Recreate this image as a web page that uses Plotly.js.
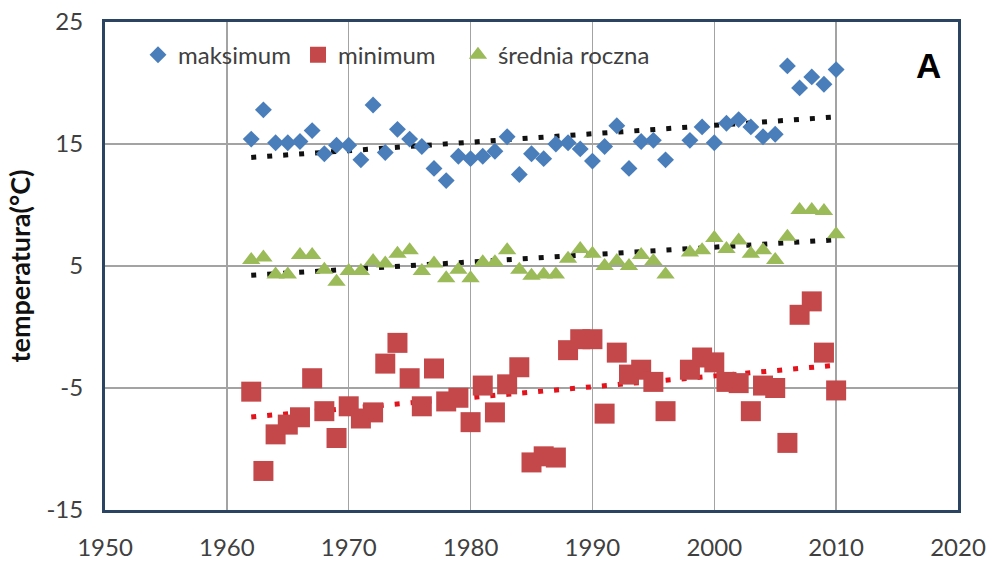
<!DOCTYPE html>
<html>
<head>
<meta charset="utf-8">
<script src="https://cdn.plot.ly/plotly-3.0.1.min.js"></script>
<style>
  html, body { margin: 0; padding: 0; background: #ffffff; }
  #chart { width: 987px; height: 563px; }
</style>
</head>
<body>
<div id="chart"></div>
<script>
// Years of observation (1997 has no record)
const years = [
  1962, 1963, 1964, 1965, 1966, 1967, 1968, 1969, 1970, 1971,
  1972, 1973, 1974, 1975, 1976, 1977, 1978, 1979, 1980, 1981,
  1982, 1983, 1984, 1985, 1986, 1987, 1988, 1989, 1990, 1991,
  1992, 1993, 1994, 1995, 1996, 1998, 1999, 2000, 2001, 2002,
  2003, 2004, 2005, 2006, 2007, 2008, 2009, 2010
];

// Annual maximum temperature (°C)
const maksimum = [
  15.4, 17.8, 15.1, 15.1, 15.2, 16.1, 14.2, 14.9, 14.9, 13.7,
  18.2, 14.3, 16.2, 15.4, 14.8, 13.0, 12.0, 14.0, 13.8, 14.0,
  14.4, 15.6, 12.5, 14.2, 13.8, 15.0, 15.1, 14.6, 13.6, 14.8,
  16.5, 13.0, 15.2, 15.3, 13.7, 15.3, 16.4, 15.1, 16.7, 17.0,
  16.4, 15.6, 15.8, 21.4, 19.6, 20.5, 19.9, 21.1
];

// Annual minimum temperature (°C)
const minimum = [
  -5.3, -11.8, -8.8, -8.0, -7.4, -4.2, -6.9, -9.1, -6.5, -7.5,
  -7.0, -3.0, -1.3, -4.2, -6.5, -3.4, -6.1, -5.8, -7.8, -4.8,
  -7.0, -4.7, -3.3, -11.1, -10.6, -10.7, -1.9, -1.0, -1.0, -7.1,
  -2.1, -3.9, -3.5, -4.5, -6.9, -3.5, -2.5, -2.9, -4.5, -4.6,
  -6.9, -4.8, -5.0, -9.5, 1.0, 2.1, -2.1, -5.2
];

// Mean annual temperature (°C)
const srednia = [
  5.5, 5.7, 4.3, 4.3, 5.9, 5.9, 4.7, 3.7, 4.6, 4.6,
  5.4, 5.2, 6.0, 6.3, 4.6, 5.2, 4.0, 4.7, 4.0, 5.3,
  5.3, 6.3, 4.7, 4.2, 4.3, 4.3, 5.6, 6.4, 6.0, 5.0,
  5.4, 5.0, 5.9, 5.4, 4.3, 6.1, 6.3, 7.3, 6.4, 7.1,
  6.0, 6.3, 5.5, 7.4, 9.6, 9.6, 9.5, 7.6
];

const seriesNames = ['maksimum', 'minimum', 'średnia roczna'];
const xTicks = [1950, 1960, 1970, 1980, 1990, 2000, 2010, 2020];
const yTicks = [-15, -5, 5, 15, 25];

// Least-squares linear trend over the observed years
function linearTrend(xs, ys) {
  const n = xs.length;
  let sx = 0, sy = 0, sxx = 0, sxy = 0;
  for (let i = 0; i < n; i++) {
    sx += xs[i]; sy += ys[i];
    sxx += xs[i] * xs[i]; sxy += xs[i] * ys[i];
  }
  const slope = (n * sxy - sx * sy) / (n * sxx - sx * sx);
  const icpt = (sy - slope * sx) / n;
  const x0 = xs[0], x1 = xs[n - 1];
  return { x: [x0, x1], y: [icpt + slope * x0, icpt + slope * x1] };
}

const fontFamily = 'Lato, "Open Sans", sans-serif';
const textColor = '#404040';
const dotDash = '5px,11px';

const tMax = linearTrend(years, maksimum);
const tMin = linearTrend(years, minimum);
const tAvg = linearTrend(years, srednia);

const traces = [
  {
    x: tMax.x, y: tMax.y, mode: 'lines', showlegend: false, hoverinfo: 'skip',
    line: { color: '#111111', width: 5, dash: dotDash }
  },
  {
    x: tAvg.x, y: tAvg.y, mode: 'lines', showlegend: false, hoverinfo: 'skip',
    line: { color: '#111111', width: 5, dash: dotDash }
  },
  {
    x: tMin.x, y: tMin.y, mode: 'lines', showlegend: false, hoverinfo: 'skip',
    line: { color: '#E3121B', width: 5, dash: dotDash }
  },
  {
    x: years, y: maksimum, name: seriesNames[0], type: 'scatter', mode: 'markers',
    legend: 'legend',
    marker: { symbol: 'diamond', size: 13, color: '#4A7EBB', line: { width: 0 } }
  },
  {
    x: years, y: minimum, name: seriesNames[1], type: 'scatter', mode: 'markers',
    legend: 'legend',
    marker: { symbol: 'square', size: 20, color: '#C4484A', line: { width: 0 } }
  },
  {
    x: years, y: srednia, name: seriesNames[2], type: 'scatter', mode: 'markers',
    legend: 'legend2',
    marker: { symbol: 'triangle-up', size: 16, color: '#9BBB59', line: { width: 0 } }
  }
];

const legendFont = { family: fontFamily, size: 24, color: textColor };

const layout = {
  width: 987,
  height: 563,
  margin: { l: 105, r: 29, t: 22, b: 53 },
  paper_bgcolor: '#ffffff',
  plot_bgcolor: '#ffffff',
  font: { family: fontFamily, color: textColor, size: 24 },
  showlegend: true,
  legend: {
    orientation: 'h',
    x: 0.0387, xanchor: 'left',
    y: 0.932, yanchor: 'middle',
    bgcolor: 'rgba(0,0,0,0)',
    font: legendFont,
    entrywidth: 115, entrywidthmode: 'pixels',
    traceorder: 'normal'
  },
  legend2: {
    orientation: 'h',
    x: 0.4138, xanchor: 'left',
    y: 0.932, yanchor: 'middle',
    bgcolor: 'rgba(0,0,0,0)',
    font: legendFont
  },
  xaxis: {
    range: [1950, 2020],
    tickvals: xTicks,
    ticktext: xTicks.map(String),
    ticks: '',
    ticklabelstandoff: 14,
    showgrid: true, gridcolor: '#A3A3A3', gridwidth: 1.5,
    zeroline: false,
    showline: true, mirror: true, linecolor: '#2A4462', linewidth: 3,
    tickfont: { family: fontFamily, size: 24, color: textColor }
  },
  yaxis: {
    range: [-15, 25],
    tickvals: yTicks,
    ticktext: yTicks.map(String),
    ticks: '',
    ticklabelstandoff: 14,
    showgrid: true, gridcolor: '#A3A3A3', gridwidth: 1.5,
    zeroline: false,
    showline: true, mirror: true, linecolor: '#2A4462', linewidth: 3,
    tickfont: { family: fontFamily, size: 24, color: textColor },
    title: {
      text: 'temperatura(°C)',
      standoff: 8,
      font: { family: fontFamily, size: 27, color: '#111111', weight: 'bold' }
    }
  },
  annotations: [
    {
      text: '<b>A</b>', xref: 'paper', yref: 'paper',
      x: 0.966, y: 0.910, xanchor: 'center', yanchor: 'middle',
      showarrow: false,
      font: { family: '"Liberation Sans", Arial, sans-serif', size: 35, color: '#000000' }
    }
  ]
};

Plotly.newPlot('chart', traces, layout, { staticPlot: true, displayModeBar: false });
</script>
</body>
</html>
